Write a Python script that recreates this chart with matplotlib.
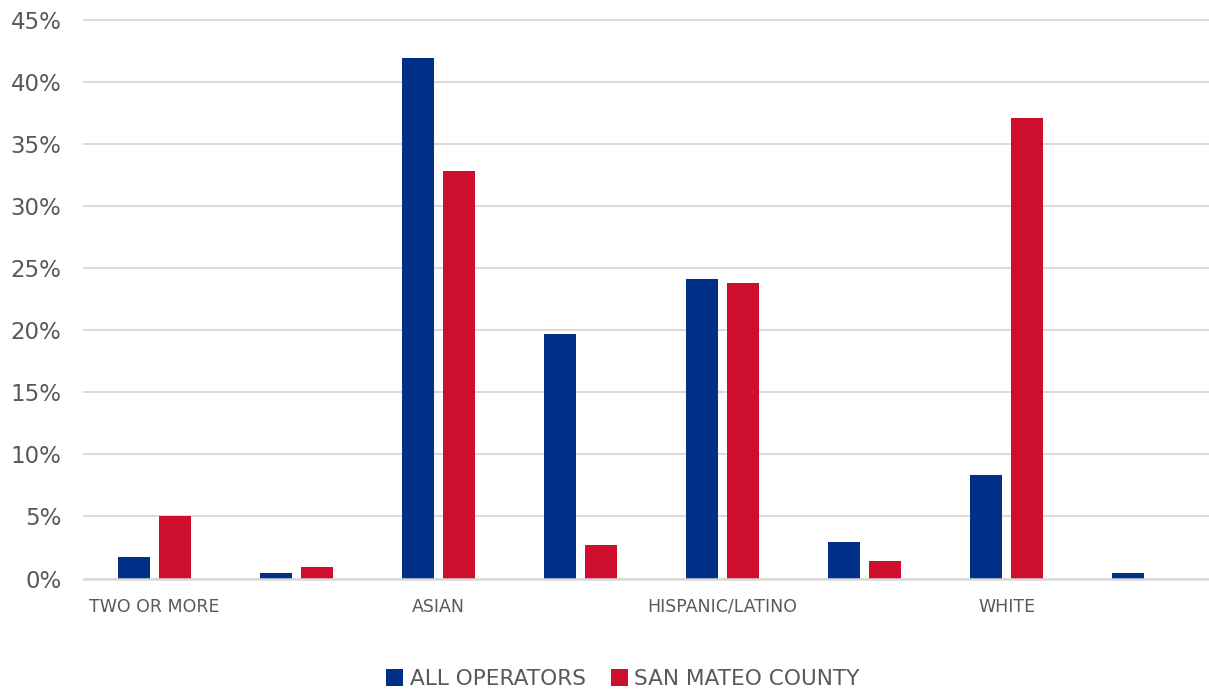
import matplotlib
matplotlib.use("Agg")
import matplotlib.pyplot as plt
from matplotlib.patches import Patch
from matplotlib.ticker import FuncFormatter
import numpy as np

categories = ["TWO OR MORE", "", "ASIAN", "", "HISPANIC/LATINO", "", "WHITE", ""]
series_names = ["ALL OPERATORS", "SAN MATEO COUNTY"]
all_operators = [1.75, 0.45, 41.9, 19.7, 24.1, 2.95, 8.35, 0.45]
san_mateo = [5.0, 0.95, 32.8, 2.7, 23.8, 1.4, 37.1, 0.0]
yticks = [0, 5, 10, 15, 20, 25, 30, 35, 40, 45]

BLUE = "#003087"
RED = "#CE0E2D"
TEXT = "#595959"
GRID = "#D9D9D9"

plt.rcParams['font.family'] = ['DejaVu Sans']

W, H = 1209, 690
fig = plt.figure(figsize=(W / 100, H / 100), dpi=100)
left, right, bottom, top = 83.5, 1219.5, 690 - 578.5, 690 - 20
ax = fig.add_axes([left / W, bottom / H, (right - left) / W, (top - bottom) / H])

x = np.arange(len(categories))
bw = 0.225
off = 0.1445
ax.bar(x - off, all_operators, bw, color=BLUE, zorder=3)
ax.bar(x + off, san_mateo, bw, color=RED, zorder=3)

ax.set_xlim(-0.5, len(categories) - 0.5)
ax.set_ylim(0, 45)
ax.set_yticks(yticks)
ax.yaxis.set_major_formatter(FuncFormatter(lambda v, p: f"{int(v)}%"))
ax.set_xticks(x)
ax.set_xticklabels(categories)
ax.tick_params(axis='y', length=0, pad=16, labelsize=16.5, labelcolor=TEXT)
ax.tick_params(axis='x', length=0, pad=14, labelsize=12.5, labelcolor=TEXT)
ax.grid(axis='y', color=GRID, linewidth=1.4, zorder=0)
for gl in ax.get_ygridlines():
    gl.set_clip_on(False)
for s in ax.spines.values():
    s.set_visible(False)
ax.axhline(0, color=GRID, linewidth=1.8, zorder=4, clip_on=False)

handles = [Patch(facecolor=BLUE), Patch(facecolor=RED)]
fig.legend(handles, series_names, loc='center', bbox_to_anchor=(623 / W, 1 - 679 / H),
           ncol=2, frameon=False, fontsize=15.6, labelcolor=TEXT,
           handlelength=0.78, handleheight=0.78, handletextpad=0.3, columnspacing=1.15)

fig.savefig("out.png", dpi=100)
